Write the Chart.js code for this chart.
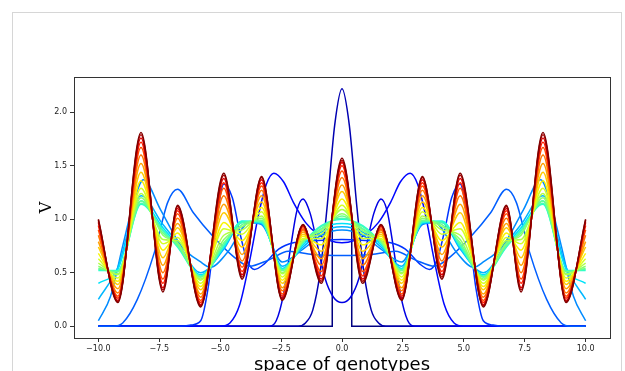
<!DOCTYPE html>
<html>
<head>
<meta charset="utf-8">
<script src="https://cdn.jsdelivr.net/npm/chart.js@4.4.0/dist/chart.umd.min.js"></script>
<style>
  html, body { margin: 0; padding: 0; background: #fff; overflow: hidden; }
  #frame { position: absolute; left: 12px; top: 12px; width: 608px; height: 400px;
           border-left: 1px solid #d6d6d6; border-top: 1px solid #d6d6d6; border-right: 1px solid #d6d6d6; }
  #chart { position: absolute; left: 0; top: 0; }
</style>
</head>
<body>
<div id="frame"></div>
<canvas id="chart" width="625" height="371"></canvas>
<script>
// ==================================================
// DATOS - curvas V(x) sobre el espacio de genotipos
// ==================================================
const xTicks = [-10, -7.5, -5, -2.5, 0, 2.5, 5, 7.5, 10];
const yTicks = [0, 0.5, 1.0, 1.5, 2.0];

// t = 0 : rectangulo inicial
const rectX = [-10, -0.4, -0.4, 0.4, 0.4, 10];
const rectY = [0, 0, 1, 1, 0, 0];

// primeras curvas (azules), cada una con su propia malla
const c1X = [-10, -1.8, -1.5, -1.2, -0.9, -0.6, -0.3, 0, 0.3, 0.6, 0.9, 1.2, 1.5, 1.8, 10];
const c1Y = [0, 0, 0.03, 0.15, 0.50, 1.14, 1.88, 2.22, 1.88, 1.14, 0.50, 0.15, 0.03, 0, 0];

const c2X = [-10, -3.0, -2.7, -2.4, -2.1, -1.85, -1.6, -1.3, -1.0, -0.7, -0.35, 0, 0.35, 0.7, 1.0, 1.3, 1.6, 1.85, 2.1, 2.4, 2.7, 3.0, 10];
const c2Y = [0, 0, 0.05, 0.3, 0.75, 1.08, 1.19, 1.05, 0.75, 0.45, 0.27, 0.22, 0.27, 0.45, 0.75, 1.05, 1.19, 1.08, 0.75, 0.3, 0.05, 0, 0];

const c3X = [-10, -5.0, -4.6, -4.2, -3.8, -3.4, -3.1, -2.8, -2.4, -2.0, -1.5, -1.0, -0.5, 0, 0.5, 1.0, 1.5, 2.0, 2.4, 2.8, 3.1, 3.4, 3.8, 4.2, 4.6, 5.0, 10];
const c3Y = [0, 0, 0.03, 0.2, 0.6, 1.07, 1.33, 1.43, 1.35, 1.16, 0.97, 0.86, 0.8, 0.78, 0.8, 0.86, 0.97, 1.16, 1.35, 1.43, 1.33, 1.07, 0.6, 0.2, 0.03, 0, 0];

const c4X = [-10, -6.6, -6.2, -5.8, -5.5, -5.2, -4.85, -4.5, -4.2, -3.9, -3.6, -3.2, -2.6, -2.0, -1.0, 0, 1.0, 2.0, 2.6, 3.2, 3.6, 3.9, 4.2, 4.5, 4.85, 5.2, 5.5, 5.8, 6.2, 6.6, 10];
const c4Y = [0, 0, 0.01, 0.05, 0.35, 0.9, 1.33, 1.2, 0.88, 0.62, 0.53, 0.58, 0.72, 0.78, 0.8, 0.81, 0.8, 0.78, 0.72, 0.58, 0.53, 0.62, 0.88, 1.2, 1.33, 0.9, 0.35, 0.05, 0.01, 0, 0];

const c5X = [-10, -9.4, -9.0, -8.4, -7.7, -7.15, -6.75, -6.1, -5.3, -4.5, -3.8, -3.0, -2.2, -1.2, 0, 1.2, 2.2, 3.0, 3.8, 4.5, 5.3, 6.1, 6.75, 7.15, 7.7, 8.4, 9.0, 9.4, 10];
const c5Y = [0, 0, 0.03, 0.25, 0.69, 1.16, 1.28, 1.06, 0.84, 0.66, 0.56, 0.62, 0.7, 0.67, 0.66, 0.67, 0.7, 0.62, 0.56, 0.66, 0.84, 1.06, 1.28, 1.16, 0.69, 0.25, 0.03, 0, 0];

const c6X = [-10, -9.5, -9.0, -8.5, -8.15, -7.45, -6.6, -5.8, -5.4, -4.7, -3.8, -3.3, -2.45, -1.6, -0.85, 0, 0.85, 1.6, 2.45, 3.3, 3.8, 4.7, 5.4, 5.8, 6.6, 7.45, 8.15, 8.5, 9.0, 9.5, 10];
const c6Y = [0.05, 0.28, 0.75, 1.2, 1.37, 1.09, 0.75, 0.6, 0.55, 0.69, 0.97, 0.95, 0.6, 0.72, 0.85, 0.9, 0.85, 0.72, 0.6, 0.95, 0.97, 0.69, 0.55, 0.6, 0.75, 1.09, 1.37, 1.2, 0.75, 0.28, 0.05];

// curvas finales (cian -> rojo) sobre una malla comun
const gridX = [-10, -9.2, -8.25, -7.35, -6.75, -5.8, -4.85, -4.1, -3.3, -2.45, -1.6, -0.85, 0, 0.85, 1.6, 2.45, 3.3, 4.1, 4.85, 5.8, 6.75, 7.35, 8.25, 9.2, 10];
const c7Y  = [0.25, 0.55, 1.22, 0.95, 0.78, 0.50, 0.72, 0.97, 0.96, 0.56, 0.74, 0.88, 0.93, 0.88, 0.74, 0.56, 0.96, 0.97, 0.72, 0.50, 0.78, 0.95, 1.22, 0.55, 0.25];
const c8Y  = [0.40, 0.53, 1.17, 0.92, 0.76, 0.48, 0.74, 0.98, 0.97, 0.54, 0.76, 0.91, 0.96, 0.91, 0.76, 0.54, 0.97, 0.98, 0.74, 0.48, 0.76, 0.92, 1.17, 0.53, 0.40];
const c9Y  = [0.52, 0.52, 1.14, 0.90, 0.74, 0.47, 0.75, 0.98, 0.97, 0.53, 0.78, 0.94, 1.00, 0.94, 0.78, 0.53, 0.97, 0.98, 0.75, 0.47, 0.74, 0.90, 1.14, 0.52, 0.52];
const c10Y = [0.53, 0.51, 1.15, 0.89, 0.75, 0.46, 0.76, 0.97, 0.98, 0.52, 0.78, 0.93, 1.01, 0.93, 0.78, 0.52, 0.98, 0.97, 0.76, 0.46, 0.75, 0.89, 1.15, 0.51, 0.53];
const c11Y = [0.54, 0.51, 1.17, 0.87, 0.76, 0.46, 0.78, 0.95, 0.99, 0.52, 0.79, 0.91, 1.03, 0.91, 0.79, 0.52, 0.99, 0.95, 0.78, 0.46, 0.76, 0.87, 1.17, 0.51, 0.54];
const c12Y = [0.56, 0.49, 1.20, 0.85, 0.78, 0.44, 0.81, 0.93, 1.01, 0.50, 0.80, 0.89, 1.05, 0.89, 0.80, 0.50, 1.01, 0.93, 0.81, 0.44, 0.78, 0.85, 1.20, 0.49, 0.56];
const c13Y = [0.59, 0.48, 1.24, 0.81, 0.80, 0.43, 0.85, 0.90, 1.03, 0.49, 0.81, 0.86, 1.09, 0.86, 0.81, 0.49, 1.03, 0.90, 0.85, 0.43, 0.80, 0.81, 1.24, 0.48, 0.59];
const c14Y = [0.63, 0.45, 1.29, 0.77, 0.83, 0.40, 0.91, 0.86, 1.07, 0.46, 0.82, 0.82, 1.13, 0.82, 0.82, 0.46, 1.07, 0.86, 0.91, 0.40, 0.83, 0.77, 1.29, 0.45, 0.63];
const c15Y = [0.68, 0.42, 1.36, 0.71, 0.87, 0.37, 0.97, 0.80, 1.11, 0.43, 0.84, 0.76, 1.19, 0.76, 0.84, 0.43, 1.11, 0.80, 0.97, 0.37, 0.87, 0.71, 1.36, 0.42, 0.68];
const c16Y = [0.74, 0.39, 1.44, 0.64, 0.92, 0.34, 1.06, 0.74, 1.16, 0.40, 0.86, 0.70, 1.26, 0.70, 0.86, 0.40, 1.16, 0.74, 1.06, 0.34, 0.92, 0.64, 1.44, 0.39, 0.74];
const c17Y = [0.79, 0.35, 1.52, 0.57, 0.96, 0.30, 1.14, 0.67, 1.22, 0.36, 0.88, 0.63, 1.32, 0.63, 0.88, 0.36, 1.22, 0.67, 1.14, 0.30, 0.96, 0.57, 1.52, 0.35, 0.79];
const c18Y = [0.85, 0.31, 1.60, 0.50, 1.01, 0.27, 1.22, 0.61, 1.27, 0.33, 0.90, 0.57, 1.39, 0.57, 0.90, 0.33, 1.27, 0.61, 1.22, 0.27, 1.01, 0.50, 1.60, 0.31, 0.85];
const c19Y = [0.90, 0.28, 1.67, 0.44, 1.05, 0.24, 1.29, 0.55, 1.31, 0.30, 0.91, 0.51, 1.45, 0.51, 0.91, 0.30, 1.31, 0.55, 1.29, 0.24, 1.05, 0.44, 1.67, 0.28, 0.90];
const c20Y = [0.94, 0.26, 1.72, 0.40, 1.08, 0.22, 1.34, 0.51, 1.34, 0.28, 0.93, 0.47, 1.50, 0.47, 0.93, 0.28, 1.34, 0.51, 1.34, 0.22, 1.08, 0.40, 1.72, 0.26, 0.94];
const c21Y = [0.97, 0.24, 1.76, 0.36, 1.10, 0.20, 1.38, 0.48, 1.37, 0.26, 0.94, 0.44, 1.53, 0.44, 0.94, 0.26, 1.37, 0.48, 1.38, 0.20, 1.10, 0.36, 1.76, 0.24, 0.97];
const c22Y = [0.99, 0.23, 1.79, 0.34, 1.12, 0.19, 1.41, 0.46, 1.39, 0.25, 0.94, 0.42, 1.55, 0.42, 0.94, 0.25, 1.39, 0.46, 1.41, 0.19, 1.12, 0.34, 1.79, 0.23, 0.99];
const c23Y = [1.00, 0.22, 1.81, 0.32, 1.13, 0.18, 1.43, 0.44, 1.40, 0.24, 0.95, 0.40, 1.57, 0.40, 0.95, 0.24, 1.40, 0.44, 1.43, 0.18, 1.13, 0.32, 1.81, 0.22, 1.00];

const curves = [
    [rectX, rectY], [c1X, c1Y], [c2X, c2Y], [c3X, c3Y], [c4X, c4Y], [c5X, c5Y], [c6X, c6Y],
    [gridX, c7Y], [gridX, c8Y], [gridX, c9Y], [gridX, c10Y], [gridX, c11Y], [gridX, c12Y],
    [gridX, c13Y], [gridX, c14Y], [gridX, c15Y], [gridX, c16Y], [gridX, c17Y], [gridX, c18Y],
    [gridX, c19Y], [gridX, c20Y], [gridX, c21Y], [gridX, c22Y], [gridX, c23Y]
];

// ==================================================
// COLORMAP jet (como matplotlib)
// ==================================================
function jet(t) {
    function seg(pts) {
        for (let k = 1; k < pts.length; k++) {
            if (t <= pts[k][0]) {
                const x0 = pts[k - 1][0], y0 = pts[k - 1][1], x1 = pts[k][0], y1 = pts[k][1];
                return y0 + (y1 - y0) * (t - x0) / (x1 - x0);
            }
        }
        return pts[pts.length - 1][1];
    }
    const r = seg([[0, 0], [0.35, 0], [0.66, 1], [0.89, 1], [1, 0.5]]);
    const g = seg([[0, 0], [0.125, 0], [0.375, 1], [0.64, 1], [0.91, 0], [1, 0]]);
    const b = seg([[0, 0.5], [0.11, 1], [0.34, 1], [0.65, 0], [1, 0]]);
    return 'rgb(' + Math.round(r * 255) + ',' + Math.round(g * 255) + ',' + Math.round(b * 255) + ')';
}

const datasets = curves.map(function(c, i) {
    return {
        data: c[0].map(function(x, k) { return { x: x, y: c[1][k] }; }),
        borderColor: jet(i / (curves.length - 1)),
        borderWidth: 1.5,
        pointRadius: 0,
        fill: false,
        tension: 0,
        cubicInterpolationMode: i === 0 ? 'default' : 'monotone',
        order: curves.length - i
    };
});

const fmt = function(v) { return (v < 0 ? '\u2212' : '') + Math.abs(v).toFixed(1); };

// caja de ejes + titulos
const framePlugin = {
    id: 'framePlugin',
    afterDatasetsDraw: function(chart) {
        const a = chart.chartArea, ctx = chart.ctx;
        ctx.save();
        ctx.strokeStyle = '#333';
        ctx.lineWidth = 1;
        ctx.strokeRect(Math.round(a.left) + 0.5, Math.round(a.top) + 0.5, Math.round(a.right - a.left), Math.round(a.bottom - a.top));
        ctx.fillStyle = '#000';
        ctx.font = '18px "DejaVu Sans"';
        ctx.textAlign = 'center';
        ctx.textBaseline = 'alphabetic';
        ctx.fillText('space of genotypes', (a.left + a.right) / 2, 370);
        ctx.translate(47, (a.top + a.bottom) / 2 - 0);
        ctx.rotate(-Math.PI / 2);
        ctx.font = '16px "DejaVu Serif"';
        ctx.textBaseline = 'middle';
        ctx.fillText('V', 0, 0);
        ctx.restore();
    }
};

new Chart(document.getElementById('chart').getContext('2d'), {
    type: 'line',
    data: { datasets: datasets },
    options: {
        responsive: false,
        animation: false,
        layout: { padding: { left: 0, top: 77, right: 15, bottom: 0 } },
        plugins: { legend: { display: false }, tooltip: { enabled: false } },
        scales: {
            x: {
                type: 'linear', min: -11, max: 11,
                afterBuildTicks: function(s) { s.ticks = xTicks.map(function(v) { return { value: v }; }); },
                afterFit: function(s) { s.height = 33; },
                grid: { display: true, drawOnChartArea: false, drawTicks: true, tickLength: 4, color: '#333' },
                border: { display: false },
                ticks: { callback: fmt, font: { family: 'DejaVu Sans', size: 8 }, color: '#222', padding: 2, maxRotation: 0 }
            },
            y: {
                type: 'linear', min: -0.111, max: 2.33,
                afterBuildTicks: function(s) { s.ticks = yTicks.map(function(v) { return { value: v }; }); },
                afterFit: function(s) { s.width = 74; },
                grid: { display: true, drawOnChartArea: false, drawTicks: true, tickLength: 4, color: '#333' },
                border: { display: false },
                ticks: { callback: fmt, font: { family: 'DejaVu Sans', size: 8 }, color: '#222', padding: 3 }
            }
        }
    },
    plugins: [framePlugin]
});
</script>
</body>
</html>
